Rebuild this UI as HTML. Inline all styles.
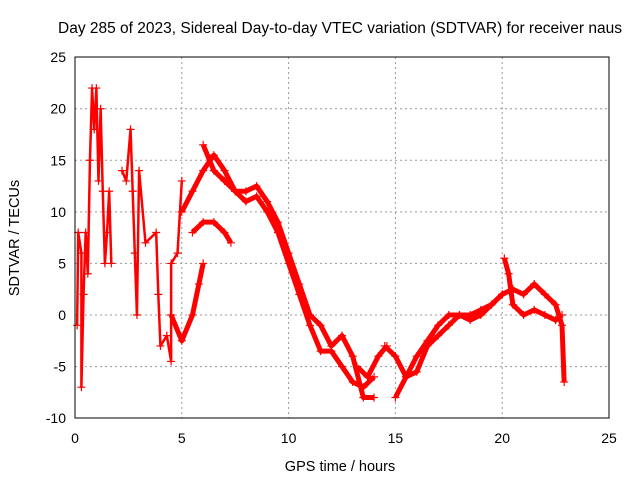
<!DOCTYPE html>
<html><head><meta charset="utf-8"><style>
body{margin:0;background:#fff}
svg text{font-family:"Liberation Sans",sans-serif;fill:#000}
</style></head><body>
<svg id="chart" width="640" height="480">
<text x="340" y="33" font-size="15.5" text-anchor="middle">Day 285 of 2023, Sidereal Day-to-day VTEC variation (SDTVAR) for receiver naus</text>
<text x="340" y="471" font-size="14.5" text-anchor="middle">GPS time / hours</text>
<text transform="translate(19,238) rotate(-90)" font-size="14.5" text-anchor="middle">SDTVAR / TECUs</text>
<g id="grid"></g><g id="ticks"></g><g id="marks"></g>
<rect x="75" y="57" width="534" height="361" fill="none" stroke="#000"/>
</svg>
<script>
const xTicks=[0,5,10,15,20,25];
const yTicks=[-10,-5,0,5,10,15,20,25];
const traceMain=[[4.5,0],[5,-2.5],[5.5,0],[5.8,3],[6,5]];
const traceUpper=[[5,10],[5.5,12],[6,14],[6.5,15.5],[7,14],[7.5,12],[8,11],[8.5,11.5],[9,10],[9.5,8],[10,5],[10.5,2],[11,-1],[11.5,-3.5],[12,-3.5],[12.5,-5],[13,-6.5],[13.5,-7],[14,-6]];
const traceUpper2=[[5.5,8],[6,9],[6.5,9],[7,8],[7.3,7]];
const traceSecond=[[6,16.5],[6.5,14],[7,13],[7.5,12],[8,12],[8.5,12.5],[9,11],[9.5,9],[10,6],[10.5,3],[11,0],[11.5,-1],[12,-3],[12.5,-2],[13,-4],[13.5,-8],[14,-8]];
const traceArc=[[13.2,-5],[13.7,-6],[14.2,-4],[14.6,-3]];
const traceEvening=[[14.5,-3],[15,-4],[15.5,-6],[16,-5.5],[16.5,-3],[17,-2],[17.5,-1],[18,0],[18.5,0],[19,0.5],[19.5,1],[20,2],[20.5,2.5],[21,2],[21.5,3],[22,2],[22.5,1],[22.8,-1],[22.9,-6.5]];
const traceEvening2=[[15,-8],[15.5,-6],[16,-4],[16.5,-2.5],[17,-1],[17.5,0],[18,0],[18.5,-0.5],[19,0],[19.5,1],[20,2]];
const traceLate=[[20.1,5.5],[20.3,4],[20.5,1],[21,0],[21.5,0.5],[22,0],[22.5,-0.5],[22.8,0]];
const traceEarly=[[0.1,-1],[0.15,8],[0.3,6],[0.3,-7],[0.4,2],[0.5,8],[0.6,4],[0.7,15],[0.8,22],[0.9,18],[1.0,22],[1.1,13],[1.2,20],[1.3,12],[1.4,5],[1.5,8],[1.6,12],[1.7,5]];
const traceMorning=[[2.2,14],[2.4,13],[2.6,18],[2.7,12],[2.8,6],[2.9,0],[3.0,14],[3.3,7],[3.8,8],[3.9,2],[4.0,-3],[4.3,-2],[4.5,-4.5],[4.5,5],[4.8,6],[5,13]];
const traces=[traceMain,traceUpper,traceUpper2,traceSecond,traceArc,traceEvening,traceEvening2,traceLate,traceEarly,traceMorning];
const widths=[5,5,5,5,5,5,5,5,2.5,2.5];
const X=v=>75+v*(534/25), Y=v=>315-v*(361/35);
const NS="http://www.w3.org/2000/svg";
const g=document.getElementById('grid'),t=document.getElementById('ticks'),m=document.getElementById('marks');
function el(tag,attrs,parent){const e=document.createElementNS(NS,tag);for(const k in attrs)e.setAttribute(k,attrs[k]);parent.appendChild(e);return e;}
xTicks.forEach(v=>{const x=X(v);
 if(v>0&&v<25){const l=el('line',{x1:x,x2:x,y1:57,y2:418,stroke:'#999','stroke-dasharray':'2,3'},g);
 
 }
 const tx=el('text',{x:x,y:443,'font-size':14,'text-anchor':'middle'},t);tx.textContent=v;
 
 });
yTicks.forEach(v=>{const y=Y(v);
 if(v>-10&&v<25){const l=el('line',{x1:75,x2:609,y1:y,y2:y,stroke:'#999','stroke-dasharray':'2,3'},g);
 
 }
 const tx=el('text',{x:66,y:y+5,'font-size':14,'text-anchor':'end'},t);tx.textContent=v;
 
 });
traces.forEach((tr,i)=>{
 const p=el('polyline',{points:tr.map(d=>X(d[0])+','+Y(d[1])).join(' '),fill:'none',stroke:'#f00','stroke-width':widths[i],'stroke-linejoin':'round'},m);
 
 
 tr.forEach(d=>{const x=X(d[0]),y=Y(d[1]);
  const c=el('path',{d:`M${x-4},${y}h8M${x},${y-4}v8`,stroke:'#f00','stroke-width':1.2},m);
  
  });
});
</script>
</body></html>
